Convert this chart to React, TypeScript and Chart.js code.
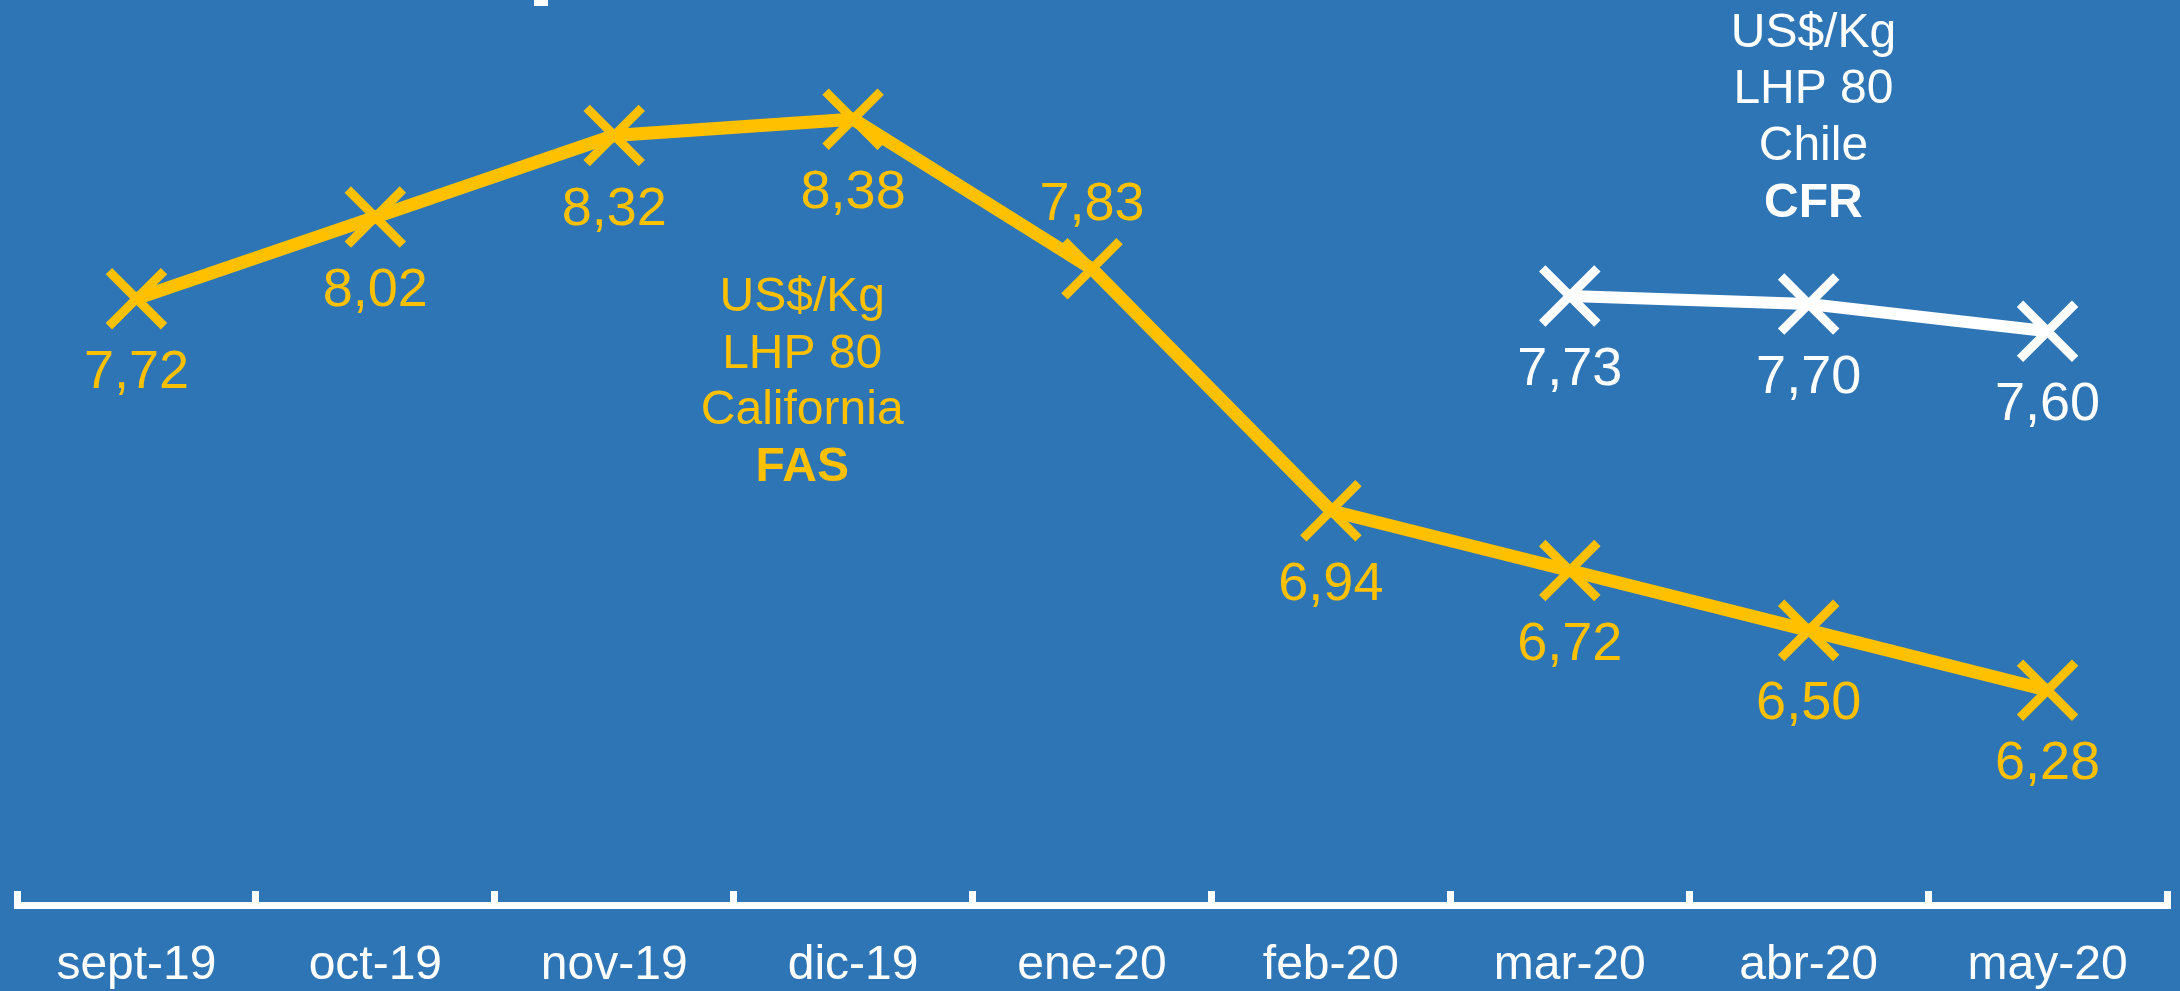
import { useEffect, useRef } from 'react';
import { Chart, registerables } from 'chart.js';

Chart.register(...registerables);

// ---- data ----
const months = ['sept-19', 'oct-19', 'nov-19', 'dic-19', 'ene-20', 'feb-20', 'mar-20', 'abr-20', 'may-20'];
const californiaFAS = [7.72, 8.02, 8.32, 8.38, 7.83, 6.94, 6.72, 6.5, 6.28];
const chileCFR = [null, null, null, null, null, null, 7.73, 7.7, 7.6];
const californiaLabelSide = ['below', 'below', 'below', 'below', 'above', 'below', 'below', 'below', 'below'];
const chileLabelSide = ['below', 'below', 'below', 'below', 'below', 'below', 'below', 'below', 'below'];
const californiaNote = ['US$/Kg', 'LHP 80', 'California', 'FAS'];
const chileNote = ['US$/Kg', 'LHP 80', 'Chile', 'CFR'];

// ---- style ----
const BG = '#2E75B6';
const YELLOW = '#FFC000';
const WHITE = '#FFFFFF';
const FONT = '"Liberation Sans", Arial, sans-serif';

const fmt = (v: number) => v.toFixed(2).replace('.', ',');

const notes = [
  { lines: californiaNote, color: YELLOW, xVal: 2.787, yVal: 7.675 },
  { lines: chileNote, color: WHITE, xVal: 7.02, yVal: 8.647 },
];

const backgroundPlugin = {
  id: 'bg',
  beforeDraw(chart: any) {
    const { ctx, width, height } = chart;
    ctx.save();
    ctx.fillStyle = BG;
    ctx.fillRect(0, 0, width, height);
    // fragment of the cropped title at the top edge
    ctx.fillStyle = WHITE;
    ctx.fillRect(534, 0, 14, 6);
    ctx.restore();
  },
};

const valueLabelPlugin = {
  id: 'valueLabels',
  afterDatasetsDraw(chart: any) {
    const ctx = chart.ctx;
    chart.data.datasets.forEach((ds: any, di: number) => {
      const meta = chart.getDatasetMeta(di);
      meta.data.forEach((pt: any, i: number) => {
        const v = ds.data[i];
        if (v == null) return;
        ctx.save();
        ctx.font = `54px ${FONT}`;
        ctx.fillStyle = ds.borderColor;
        ctx.textAlign = 'center';
        ctx.textBaseline = 'alphabetic';
        const y = ds.labelSides[i] === 'above' ? pt.y - 49 : pt.y + 89;
        ctx.fillText(fmt(v), pt.x, y);
        ctx.restore();
      });
    });
  },
};

const notePlugin = {
  id: 'notes',
  afterDatasetsDraw(chart: any) {
    const ctx = chart.ctx;
    const xs = chart.scales.x;
    const ys = chart.scales.y;
    notes.forEach((n) => {
      const x = xs.getPixelForValue(n.xVal);
      const y0 = ys.getPixelForValue(n.yVal);
      ctx.save();
      ctx.fillStyle = n.color;
      ctx.textAlign = 'center';
      ctx.textBaseline = 'alphabetic';
      n.lines.forEach((line, i) => {
        const bold = i === n.lines.length - 1;
        ctx.font = `${bold ? 'bold ' : ''}48px ${FONT}`;
        ctx.fillText(line, x, y0 + i * 56.8);
      });
      ctx.restore();
    });
  },
};

export default function App() {
  const canvasRef = useRef<HTMLCanvasElement | null>(null);

  useEffect(() => {
    document.body.style.margin = '0';
    const canvas = canvasRef.current;
    if (!canvas) return;
    const chart = new Chart(canvas, {
      type: 'line',
      data: {
        labels: months,
        datasets: [
          {
            label: 'California FAS',
            data: californiaFAS,
            borderColor: YELLOW,
            backgroundColor: YELLOW,
            borderWidth: 13,
            pointStyle: 'crossRot',
            pointRadius: 39,
            pointBorderWidth: 9,
            pointBorderColor: YELLOW,
            pointBackgroundColor: YELLOW,
            tension: 0,
            clip: false,
            labelSides: californiaLabelSide,
          } as any,
          {
            label: 'Chile CFR',
            data: chileCFR,
            borderColor: WHITE,
            backgroundColor: WHITE,
            borderWidth: 12,
            pointStyle: 'crossRot',
            pointRadius: 39,
            pointBorderWidth: 9,
            pointBorderColor: WHITE,
            pointBackgroundColor: WHITE,
            tension: 0,
            spanGaps: false,
            clip: false,
            labelSides: chileLabelSide,
          } as any,
        ],
      },
      options: {
        responsive: false,
        animation: false,
        devicePixelRatio: 1,
        events: [],
        layout: { autoPadding: false, padding: { top: 5, left: 17, right: 13, bottom: -50 } },
        plugins: {
          legend: { display: false },
          tooltip: { enabled: false },
          title: { display: false },
        },
        scales: {
          x: {
            type: 'category',
            offset: true,
            grid: {
              display: true,
              drawOnChartArea: false,
              drawTicks: true,
              offset: true,
              tickLength: -14,
              lineWidth: 7,
              tickWidth: 7,
              color: WHITE,
              tickColor: WHITE,
            },
            border: { display: true, color: WHITE, width: 7 },
            ticks: {
              color: WHITE,
              font: { size: 48, family: FONT, lineHeight: 3.125 },
              padding: 0,
              maxRotation: 0,
              autoSkip: false,
            },
          },
          y: {
            display: false,
            min: 5.49,
            max: 8.8,
          },
        },
      } as any,
      plugins: [backgroundPlugin, valueLabelPlugin, notePlugin],
    });
    return () => chart.destroy();
  }, []);

  return (
    <div style={{ width: 2180, height: 991 }}>
      <canvas ref={canvasRef} width={2180} height={991} style={{ display: 'block' }} />
    </div>
  );
}
